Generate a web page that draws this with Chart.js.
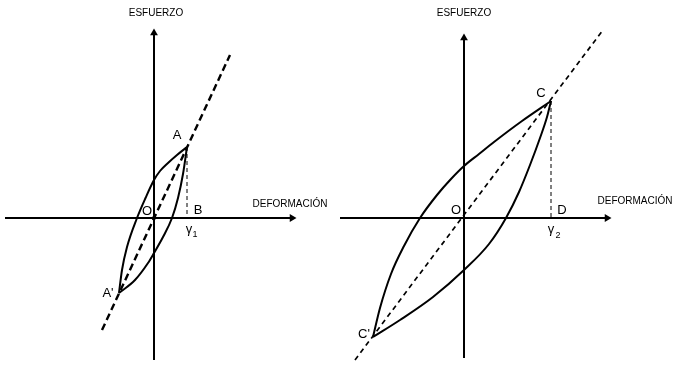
<!DOCTYPE html>
<html>
<head>
<meta charset="utf-8">
<script src="https://cdn.jsdelivr.net/npm/chart.js@4"></script>
<style>
  html, body { margin: 0; padding: 0; background: #fff; }
  .panel { position: absolute; top: 0; height: 366px; }
  #left { left: 0; width: 340px; }
  #right { left: 340px; width: 343px; }
</style>
</head>
<body>
<div class="panel" id="left"><canvas id="leftChart"></canvas></div>
<div class="panel" id="right"><canvas id="rightChart"></canvas></div>
<script>
// units: strain on x, stress on y (same arbitrary unit for both panels)

// left panel: small cycle O-A-A'
const leftAxisX = [-14.9, 13.8];
const leftAxisY = [-14.2, 18.5];
const leftPeak = [3.3, 7.1];      // A
const leftTrough = [-3.5, -7.5];  // A'
const leftUpperX = [-3.5, -3.2, -2.7, -1.7, -0.85, 0, 0.6, 1.4, 2.3, 3.3];
const leftUpperY = [-7.5, -5.2, -2.9, 0, 2.0, 3.8, 4.7, 5.5, 6.3, 7.1];
const leftLowerX = [-3.5, -1.9, -0.6, 0, 0.9, 1.8, 2.4, 2.9, 3.3];
const leftLowerY = [-7.5, -6.2, -4.5, -3.5, -1.9, 0, 2.0, 4.4, 7.1];
const leftSecantX = [-5.2, 7.6];
const leftSecantY = [-11.2, 16.3];

// right panel: large cycle O-C-C'
const rightAxisX = [-12.4, 14.3];
const rightAxisY = [-14.0, 18.0];
const rightPeak = [8.7, 11.7];      // C
const rightTrough = [-9.1, -11.9];  // C'
const rightUpperX = [-9.1, -8.4, -7.3, -6.0, -4.4, -2.7, -1.3, 0, 1.5, 3.0, 5.8, 8.7];
const rightUpperY = [-11.9, -9.0, -5.6, -2.8, 0, 2.3, 3.9, 5.2, 6.4, 7.6, 9.7, 11.7];
const rightLowerX = [-9.1, -6.4, -3.1, 0, 2.5, 4.2, 5.5, 6.6, 7.6, 8.3, 8.7];
const rightLowerY = [-11.9, -10.2, -7.9, -5.2, -2.6, 0, 2.6, 5.3, 8.0, 10.1, 11.7];
const rightSecantX = [-10.9, 13.9];
const rightSecantY = [-14.2, 18.8];

const stressTitle = "ESFUERZO";
const strainTitle = "DEFORMACIÓN";

function pts(xs, ys) {
  return xs.map((x, i) => ({ x: x, y: ys[i] }));
}

const textPlugin = {
  id: "texts",
  afterDatasetsDraw(chart, args, opts) {
    const ctx = chart.ctx;
    const sx = chart.scales.x, sy = chart.scales.y;
    ctx.save();
    ctx.fillStyle = "#000";
    ctx.textAlign = "center";
    ctx.textBaseline = "middle";
    opts.items.forEach(t => {
      ctx.font = t.font;
      ctx.fillText(t.text, sx.getPixelForValue(t.at[0]) + t.dx, sy.getPixelForValue(t.at[1]) + t.dy);
    });
    ctx.restore();
  }
};

function makePanel(id, p) {
  const black = "#000";
  new Chart(document.getElementById(id), {
    type: "scatter",
    data: {
      datasets: [
        { data: pts(p.axisX, [0, 0]), showLine: true, borderColor: black, borderWidth: 2,
          pointRadius: [0, 4.5], pointStyle: "triangle", rotation: 90, backgroundColor: black, pointBorderWidth: 0 },
        { data: pts([0, 0], p.axisY), showLine: true, borderColor: black, borderWidth: 2,
          pointRadius: [0, 4.5], pointStyle: "triangle", rotation: 0, backgroundColor: black, pointBorderWidth: 0 },
        { data: pts(p.secantX, p.secantY), showLine: true, borderColor: black, borderWidth: p.secantWidth,
          borderDash: p.secantDash, pointRadius: 0 },
        { data: pts([p.peak[0], p.peak[0]], [p.peak[1], 0]), showLine: true, borderColor: black, borderWidth: 1,
          borderDash: [4, 3], pointRadius: 0 },
        { data: pts(p.upperX, p.upperY), showLine: true, borderColor: black, borderWidth: 2,
          cubicInterpolationMode: "monotone", pointRadius: 0 },
        { data: pts(p.lowerX, p.lowerY), showLine: true, borderColor: black, borderWidth: 2,
          cubicInterpolationMode: "monotone", pointRadius: 0 },
        { data: [{ x: 0, y: 0 }], pointRadius: p.originDot, backgroundColor: black, borderWidth: 0 }
      ]
    },
    options: {
      responsive: true,
      maintainAspectRatio: false,
      animation: false,
      layout: { padding: 0, autoPadding: false },
      scales: {
        x: { type: "linear", display: false, min: p.xMin, max: p.xMax },
        y: { type: "linear", display: false, min: p.yMin, max: p.yMax }
      },
      plugins: {
        legend: { display: false },
        tooltip: { enabled: false },
        texts: { items: p.texts }
      }
    },
    plugins: [textPlugin]
  });
}

const small = "10px 'Liberation Sans', Arial, sans-serif";
const big = "13px 'Liberation Sans', Arial, sans-serif";
const sub = "9px 'Liberation Sans', Arial, sans-serif";

makePanel("leftChart", {
  xMin: -15.4, xMax: 18.6, yMin: -14.8, yMax: 21.8,
  axisX: leftAxisX, axisY: leftAxisY, peak: leftPeak,
  upperX: leftUpperX, upperY: leftUpperY, lowerX: leftLowerX, lowerY: leftLowerY,
  secantX: leftSecantX, secantY: leftSecantY, secantWidth: 2.4, secantDash: [7, 4], originDot: 2,
  texts: [
    { text: stressTitle, at: [0, leftAxisY[1]], dx: 2, dy: -20, font: small },
    { text: strainTitle, at: [leftAxisX[1], 0], dx: -2, dy: -14, font: small },
    { text: "A", at: leftPeak, dx: -10, dy: -12, font: big },
    { text: "A'", at: leftTrough, dx: -11, dy: 0, font: big },
    { text: "O", at: [0, 0], dx: -7, dy: -7, font: big },
    { text: "B", at: [leftPeak[0], 0], dx: 11, dy: -8, font: big },
    { text: "γ", at: [leftPeak[0], 0], dx: 2, dy: 11, font: big },
    { text: "1", at: [leftPeak[0], 0], dx: 8, dy: 17, font: sub }
  ]
});

makePanel("rightChart", {
  xMin: -12.4, xMax: 21.9, yMin: -14.8, yMax: 21.8,
  axisX: rightAxisX, axisY: rightAxisY, peak: rightPeak,
  upperX: rightUpperX, upperY: rightUpperY, lowerX: rightLowerX, lowerY: rightLowerY,
  secantX: rightSecantX, secantY: rightSecantY, secantWidth: 1.7, secantDash: [5, 4], originDot: 1.5,
  texts: [
    { text: stressTitle, at: [0, rightAxisY[1]], dx: 0, dy: -25, font: small },
    { text: strainTitle, at: [rightAxisX[1], 0], dx: 28, dy: -17, font: small },
    { text: "C", at: rightPeak, dx: -10, dy: -8, font: big },
    { text: "C'", at: rightTrough, dx: -9, dy: -3, font: big },
    { text: "O", at: [0, 0], dx: -8, dy: -8, font: big },
    { text: "D", at: [rightPeak[0], 0], dx: 11, dy: -8, font: big },
    { text: "γ", at: [rightPeak[0], 0], dx: 0, dy: 11, font: big },
    { text: "2", at: [rightPeak[0], 0], dx: 7, dy: 18, font: sub }
  ]
});
</script>
</body>
</html>
